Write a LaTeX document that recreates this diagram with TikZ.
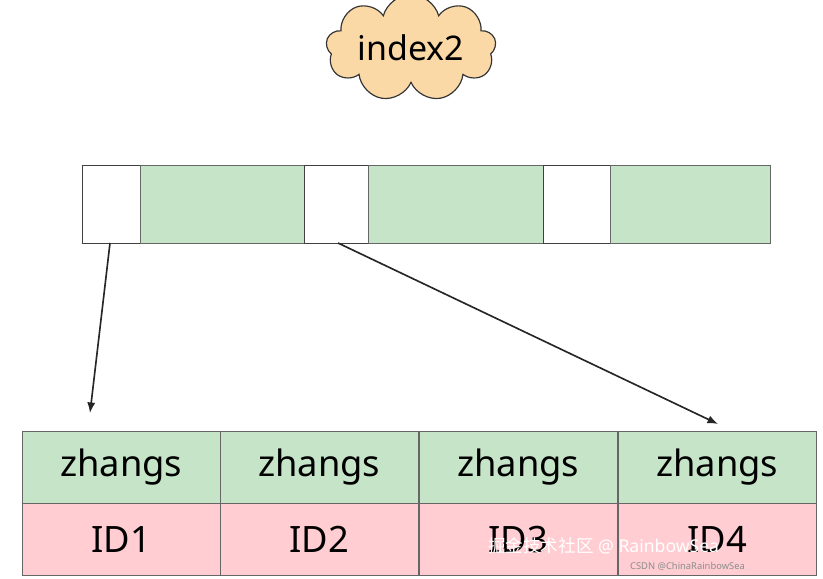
\documentclass[tikz,border=0pt]{standalone}
\usepackage{fontspec}
\setmainfont{Noto Sans}
\newfontfamily\cjk{Noto Sans CJK SC}
\usetikzlibrary{shapes.symbols}
\definecolor{keygreen}{HTML}{C6E5C8}
\definecolor{idpink}{HTML}{FFCDD2}
\definecolor{cloudtan}{HTML}{FBD9A6}
\tikzset{
  slot/.style={draw=black!75, fill=white},
  keycell/.style={draw=black!60, fill=keygreen},
  namecell/.style={draw=black!60, fill=keygreen, font=\fontsize{31}{36}\selectfont},
  idcell/.style={draw=black!60, fill=idpink, font=\fontsize{31}{36}\selectfont},
  ptr/.style={-{Latex[length=9pt,width=7pt]}, line width=1.4pt, black!85}
}
\usetikzlibrary{arrows.meta}
\begin{document}
\begin{tikzpicture}[x=0.03cm, y=-0.03cm]
    \useasboundingbox (0,0) rectangle (823,578);
    % index name
    \node (idx) [cloud, cloud puffs=9, aspect=2.1, draw=black!80, line width=1pt, fill=cloudtan,
      minimum width=170*0.03cm, minimum height=80*0.03cm, inner sep=0pt,
      font=\fontsize{29}{34}\selectfont] at (411,48) {index2};
    % leaf page of index2
    \draw [slot] (82,165) rectangle (140,243);
    \draw [keycell] (140,165) rectangle (304,243);
    \draw [slot] (304,165) rectangle (368,243);
    \draw [keycell] (368,165) rectangle (543,243);
    \draw [slot] (543,165) rectangle (610,243);
    \draw [keycell] (610,165) rectangle (770,243);
    \coordinate (s1) at (110,243);
    \coordinate (s2) at (338,243);
    % rows
    \foreach \x/\n [count=\i] in {22/1,220/2,419/3,618/4} {
      \node (n\i) [namecell, minimum width=198*0.03cm, minimum height=72*0.03cm,
        anchor=north west] at (\x,431) {zhangs};
      \node (d\i) [idcell, minimum width=198*0.03cm, minimum height=72*0.03cm,
        anchor=north west] at (\x,503) {ID\n};
    }
    \coordinate (t1) at (90,413);
    \coordinate (t2) at (718,424);
    \draw [ptr] (s1) -- (t1);
    \draw [ptr] (s2) -- (t2);
    % watermark
    \node (wm1) [anchor=west, text=white, font=\fontsize{15}{18}\selectfont] at (484,546) {{\cjk 掘金技术社区} @ RainbowSea};
    \node (wm2) [anchor=west, text=black!45, font=\fontsize{8}{10}\selectfont] at (626,566) {CSDN @ChinaRainbowSea};
\end{tikzpicture}
\end{document}
